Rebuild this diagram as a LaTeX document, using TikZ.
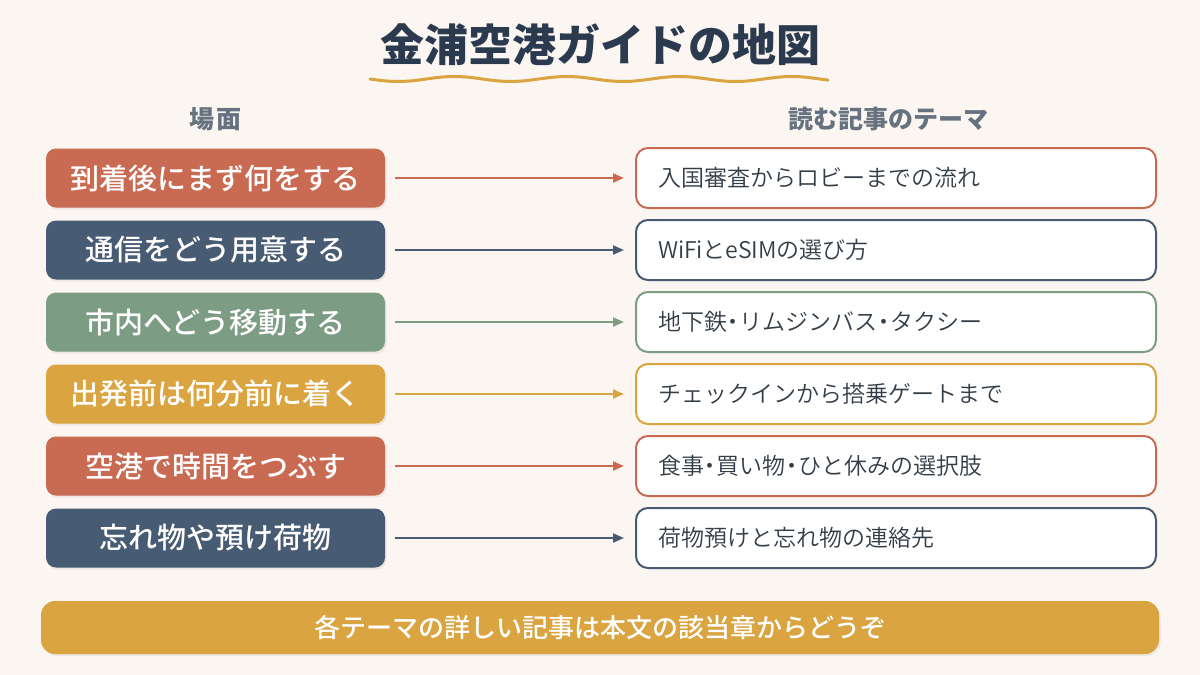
\documentclass[tikz,border=0pt]{standalone}
\usepackage{fontspec}
\setmainfont{Noto Sans CJK JP}
\newfontfamily\mediumfont{Noto Sans CJK JP Medium}
\newfontfamily\lightfont{Noto Sans CJK JP DemiLight}
\usetikzlibrary{arrows.meta,shadows}
\definecolor{bg}{HTML}{FBF6F1}
\definecolor{titlec}{HTML}{2B3A4E}
\definecolor{headc}{HTML}{66727F}
\definecolor{textc}{HTML}{333D47}
\definecolor{terra}{HTML}{C96A53}
\definecolor{navy}{HTML}{475B73}
\definecolor{sage}{HTML}{7C9C83}
\definecolor{gold}{HTML}{DAA440}
\newcommand{\nkg}{\kern-.22em・\kern-.22em}
\tikzset{
  leftbox/.style={rounded corners=10pt, minimum width=339pt, minimum height=59pt,
    text=white, font=\fontsize{29}{33}\mediumfont, inner sep=0pt,
    drop shadow={opacity=0.12, shadow xshift=1.5pt, shadow yshift=-2pt}},
  rightbox/.style={rounded corners=12pt, minimum width=520pt, minimum height=60pt,
    fill=white, line width=2pt, text=textc, text width=476pt, align=left,
    inner xsep=22pt, inner ysep=0pt, font=\fontsize{23}{27}\lightfont},
  arr/.style={line width=2pt, -{Triangle[length=11pt,width=9pt]},
    shorten <=10pt, shorten >=11pt},
  head/.style={text=headc, font=\fontsize{25}{29}\selectfont\bfseries}
}
\begin{document}
\begin{tikzpicture}[x=1pt,y=-1pt]
\useasboundingbox (0,0) rectangle (1200,675);
\fill[bg] (0,0) rectangle (1200,675);
\node[text=titlec, font=\fontsize{44}{50}\selectfont\bfseries] (title) at (600,45) {金浦空港ガイドの地図};
\draw[gold, line width=3pt, line cap=round] plot[domain=370:828, samples=120] (\x, {79+2.5*sin((\x-370)*3.2)});
\node[head] (h1) at (215,119) {場\kern2pt 面};
\node[head] (h2) at (888,119) {読む記事のテーマ};
\foreach \i/\c/\l/\r in {
  1/terra/到着後にまず何をする/入国審査からロビーまでの流れ,
  2/navy/通信をどう用意する/WiFiとeSIMの選び方,
  3/sage/市内へどう移動する/地下鉄\nkg リムジンバス\nkg タクシー,
  4/gold/出発前は何分前に着く/チェックインから搭乗ゲートまで,
  5/terra/空港で時間をつぶす/食事\nkg 買い物\nkg ひと休みの選択肢,
  6/navy/忘れ物や預け荷物/荷物預けと忘れ物の連絡先}{
  \node[leftbox, fill=\c] (l\i) at (215.5, 178+72*\i-72) {\l};
  \node[rightbox, draw=\c] (r\i) at (896, 178+72*\i-72) {\r};
  \draw[arr, \c] (l\i) -- (r\i);
}
\node[fill=gold, rounded corners=14pt, minimum width=1118pt, minimum height=53pt,
  text=white, font=\fontsize{26}{30}\mediumfont,
  drop shadow={opacity=0.12, shadow xshift=1.5pt, shadow yshift=-2pt}] (foot) at (600,627.5)
  {各テーマの詳しい記事は本文の該当章からどうぞ};
\end{tikzpicture}
\end{document}
